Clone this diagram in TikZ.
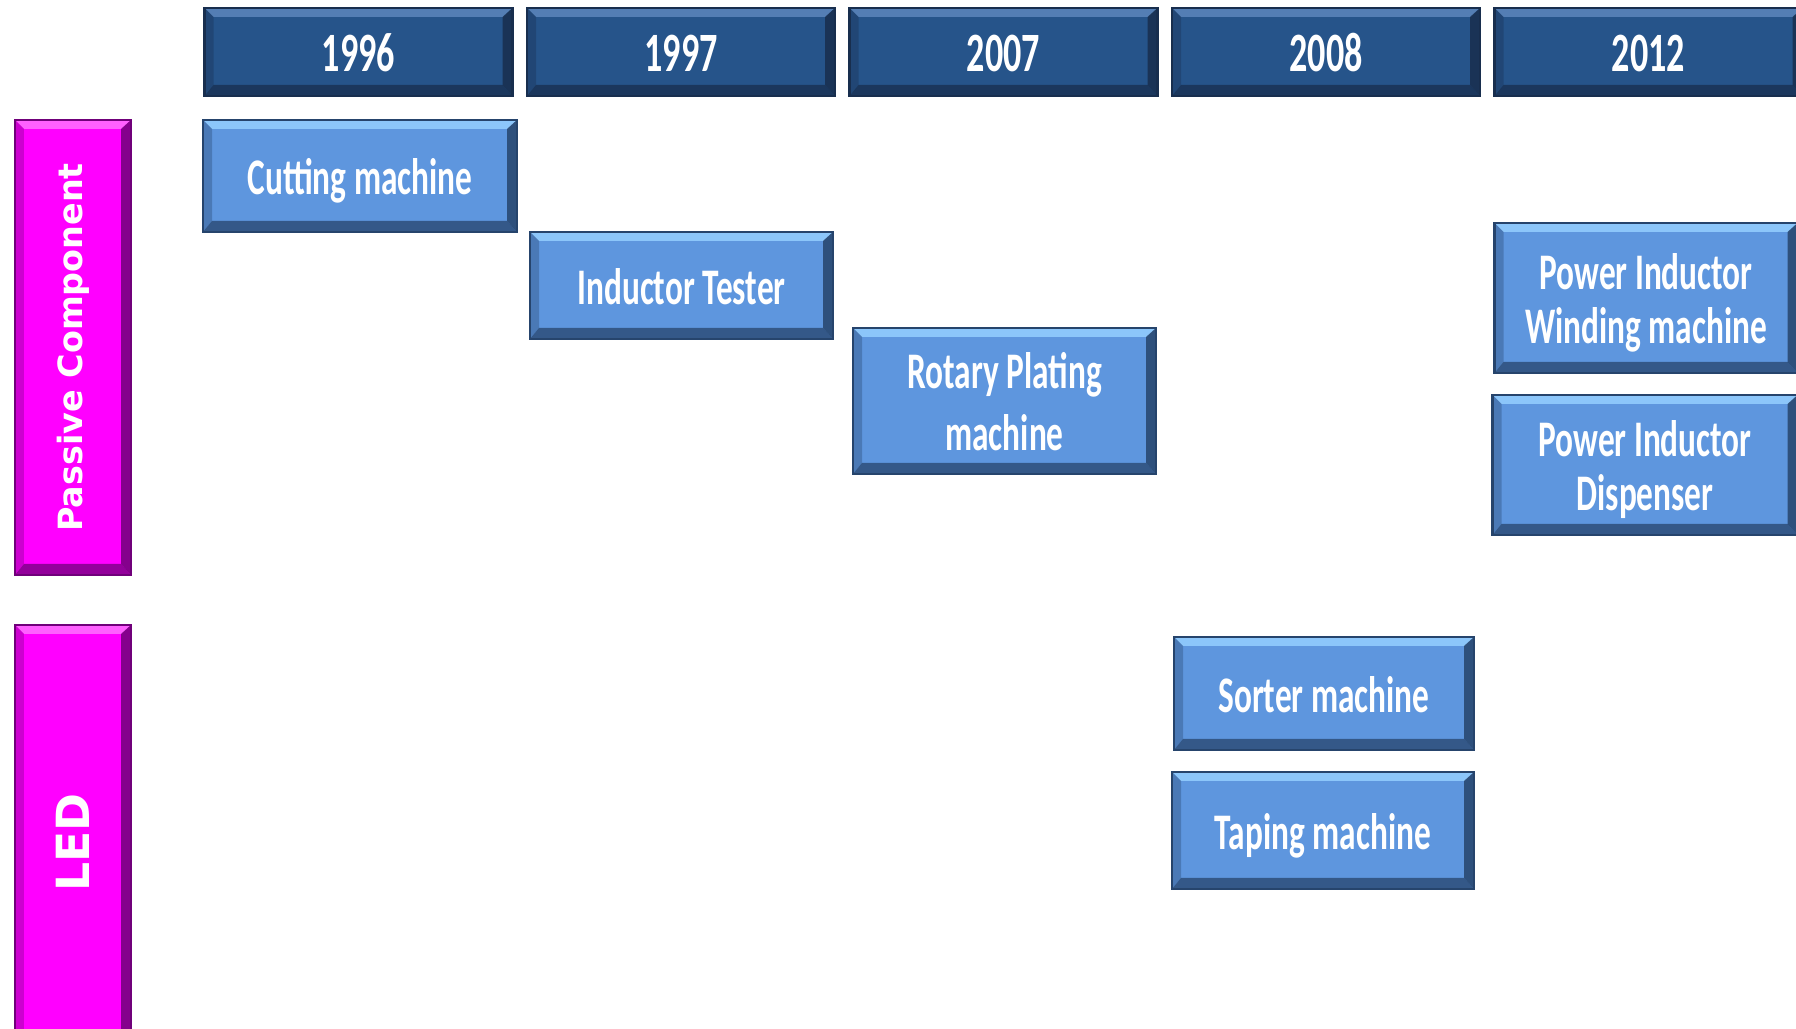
\documentclass[tikz,border=0pt]{standalone}
\usepackage{fontspec}
\setmainfont{Carlito}
\newfontfamily\sidefont{DejaVu Sans}
\usepackage{graphicx}
\usepackage{tikz}
\usetikzlibrary{positioning}
\definecolor{cyear}    {RGB}{38, 84,138}
\definecolor{cyeartop} {RGB}{84,126,180}
\definecolor{cyeardk}  {RGB}{24, 46, 78}
\definecolor{citem}    {RGB}{94,150,222}
\definecolor{citemtop} {RGB}{140,198,250}
\definecolor{citemdk}  {RGB}{38, 68,108}
\definecolor{cmag}     {RGB}{255, 0,255}
\definecolor{cmagtop}  {RGB}{255,96,255}
\definecolor{cmagdk}   {RGB}{112, 0,122}
% narrow, tall lettering as in the slide, sitting a little low in the box
\newcommand{\sq}[1]{\raisebox{0pt}[\dimexpr\height+4.5pt][\depth]{%
  \scalebox{0.65}[1]{\begin{tabular}{@{}c@{}}#1\end{tabular}}}}
\tikzset{
  bb/.style={rectangle, draw=c#1dk, line width=0.6pt, fill=c#1,
             text=white, inner sep=0pt,
             path picture={
               \fill[c#1top] (path picture bounding box.north west)
                 -- (path picture bounding box.north east)
                 -- ([shift={(-0.09,-0.09)}]path picture bounding box.north east)
                 -- ([shift={(0.09,-0.09)}]path picture bounding box.north west) -- cycle;
               \fill[c#1dk, opacity=0.75] (path picture bounding box.south west)
                 -- (path picture bounding box.south east)
                 -- ([shift={(-0.1,0.11)}]path picture bounding box.south east)
                 -- ([shift={(0.09,0.11)}]path picture bounding box.south west) -- cycle;
               \fill[c#1dk, opacity=0.85] (path picture bounding box.north east)
                 -- (path picture bounding box.south east)
                 -- ([shift={(-0.1,0.11)}]path picture bounding box.south east)
                 -- ([shift={(-0.1,-0.09)}]path picture bounding box.north east) -- cycle;
               \fill[c#1dk, opacity=0.35] (path picture bounding box.north west)
                 -- (path picture bounding box.south west)
                 -- ([shift={(0.09,0.11)}]path picture bounding box.south west)
                 -- ([shift={(0.09,-0.09)}]path picture bounding box.north west) -- cycle;
             }},
  yr/.style={bb=year, minimum width=3.08cm, minimum height=0.88cm,
             font=\fontsize{15.8}{17}\selectfont\bfseries},
  mc/.style={bb=item, font=\fontsize{14.6}{15.2}\selectfont\bfseries},
  side/.style={bb=mag, minimum width=1.16cm,
               font=\sidefont\bfseries},
}
\begin{document}
\begin{tikzpicture}
  \useasboundingbox (0,0) rectangle (17.96,-10.29);

  % ── Years ──────────────────────────────────────────────────────────────────
  \foreach \yr [count=\i] in {1996,1997,2007,2008,2012}
    \node[yr] (y\yr) at ({3.585+(\i-1)*3.225},-0.52) {\sq{\yr}};

  % ── Product lines ──────────────────────────────────────────────────────────
  \node[side, minimum height=4.55cm, font=\sidefont\bfseries\fontsize{9.5}{11}\selectfont]
      at (0.73,-3.475) (pass) {\rotatebox{90}{Passive Component}};
  \node[side, minimum height=4.35cm, font=\sidefont\bfseries\fontsize{13}{15}\selectfont]
      at (0.73,-8.425) (led) {\rotatebox{90}{LED}};

  % ── Passive component machines ─────────────────────────────────────────────
  \node[mc, minimum width=3.14cm, minimum height=1.12cm] at (3.60,-1.76) (cut)
      {\sq{Cutting machine}};
  \node[mc, minimum width=3.03cm, minimum height=1.07cm] at (6.815,-2.855) (tst)
      {\sq{Inductor Tester}};
  \node[mc, minimum width=3.03cm, minimum height=1.46cm] at (10.045,-4.01) (rot)
      {\sq{Rotary Plating\\[2.5pt]machine}};
  \node[mc, minimum width=3.03cm, minimum height=1.50cm] at (16.46,-2.98) (wind)
      {\sq{Power Inductor\\Winding machine}};
  \node[mc, minimum width=3.05cm, minimum height=1.40cm] at (16.45,-4.65) (disp)
      {\sq{Power Inductor\\Dispenser}};

  % ── LED machines ───────────────────────────────────────────────────────────
  \node[mc, minimum width=3.00cm, minimum height=1.13cm] at (13.24,-6.935) (sort)
      {\sq{Sorter machine}};
  \node[mc, minimum width=3.02cm, minimum height=1.17cm] at (13.23,-8.305) (tape)
      {\sq{Taping machine}};
\end{tikzpicture}
\end{document}
